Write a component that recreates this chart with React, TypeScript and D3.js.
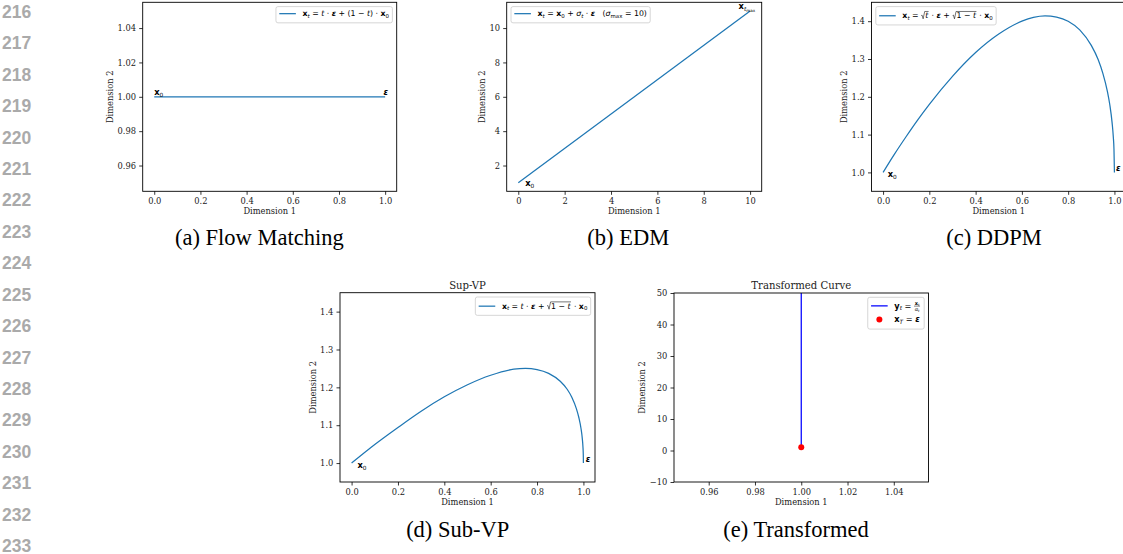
import React, { useEffect, useRef } from 'react';
import * as d3 from 'd3';

// page line numbers in the left margin
const lineNumbers = [216, 217, 218, 219, 220, 221, 222, 223, 224, 225, 226, 227, 228, 229, 230, 231, 232, 233];

// (a) flow matching: straight path x0 -> eps
const flowX = [0, 1];
const flowY = [1, 1];
// (b) EDM: x0 + sigma * eps, sigma up to 10
const edmX = [0, 10];
const edmY = [1, 11];
// (c) DDPM path
const ddpmX = [0, 0.05, 0.1, 0.15, 0.2, 0.3, 0.4, 0.5, 0.6, 0.65, 0.7, 0.75, 0.8, 0.85, 0.9, 0.93, 0.95, 0.97, 0.98, 0.99, 0.995, 0.998, 1.0];
const ddpmY = [1.0, 1.049, 1.095, 1.139, 1.18, 1.254, 1.317, 1.366, 1.4, 1.41, 1.414, 1.411, 1.4, 1.377, 1.336, 1.298, 1.262, 1.213, 1.179, 1.131, 1.095, 1.061, 1.0];
// (d) sub-VP path
const subX = [0, 0.1, 0.2, 0.3, 0.4, 0.5, 0.6, 0.7, 0.75, 0.8, 0.85, 0.9, 0.93, 0.95, 0.97, 0.98, 0.99, 0.995, 0.998, 0.9995, 1.0];
const subY = [1.0, 1.049, 1.094, 1.137, 1.175, 1.207, 1.232, 1.248, 1.25, 1.247, 1.237, 1.216, 1.195, 1.174, 1.143, 1.121, 1.09, 1.066, 1.043, 1.022, 1.0];
// (e) transformed curve + end point
const transX = [1, 1];
const transY = [1, 50];
const endX = [1];
const endY = [1];

// tick values
const unitTicks = [0, 0.2, 0.4, 0.6, 0.8, 1.0];
const flowYTicks = [0.96, 0.98, 1.0, 1.02, 1.04];
const edmXTicks = [0, 2, 4, 6, 8, 10];
const edmYTicks = [2, 4, 6, 8, 10];
const vpYTicks = [1.0, 1.1, 1.2, 1.3, 1.4];
const transXTicks = [0.96, 0.98, 1.0, 1.02, 1.04];
const transYTicks = [-10, 0, 10, 20, 30, 40, 50];

// top-row titles sit above the page edge in the source, so only the lower row has them
const titles = ['', '', '', 'Sup-VP', 'Transformed Curve'];
const captions = ['(a) Flow Matching', '(b) EDM', '(c) DDPM', '(d) Sub-VP', '(e) Transformed'];

// --- tiny mathtext-ish token helpers ---
type Tok = { t?: string; b?: boolean; i?: boolean; sub?: number; sqrt?: Tok[]; num?: Tok[]; den?: Tok[] };
const N = (t: string): Tok => ({ t });
const B = (t: string): Tok => ({ t, b: true });
const I = (t: string): Tok => ({ t, i: true });
const BI = (t: string): Tok => ({ t, b: true, i: true });
const S = (t: string, i = false): Tok => ({ t, i, sub: 1 });
const SS = (t: string): Tok => ({ t, sub: 2 });
const SQ = (...inner: Tok[]): Tok => ({ sqrt: inner });
const FR = (num: Tok[], den: Tok[]): Tok => ({ num, den });

const xt = [B('x'), S('t', true)];
const x0 = [B('x'), S('0')];
const eps = [BI('ε')];

const flowLabel = [...xt, N(' = '), I('t'), N(' · '), ...eps, N(' + (1 − '), I('t'), N(') · '), ...x0];
const edmLabel = [...xt, N(' = '), ...x0, N(' + '), I('σ'), S('t', true), N(' · '), ...eps, N('   ('), I('σ'), S('max'), N(' = 10)')];
const ddpmLabel = [...xt, N(' = '), SQ(I('t')), N(' · '), ...eps, N(' + '), SQ(N('1 − '), I('t')), N(' · '), ...x0];
const subLabel = [...xt, N(' = '), I('t'), N(' · '), ...eps, N(' + '), SQ(N('1 − '), I('t')), N(' · '), ...x0];
const transLabel = [B('y'), S('t', true), N(' = '), FR([B('x'), S('t', true)], [I('α'), S('t', true)])];
const endLabel = [B('x'), S('T', true), N(' = '), ...eps];
const tmaxLabel = [B('x'), S('t', true), SS('max')];

const blue = '#1f77b4';
const serif = 'DejaVu Serif';

const panels = [
  {
    key: 'a', left: 142.7, top: 2.3, right: 396.7, bottom: 191.3,
    xDomain: [-0.05, 1.05], yDomain: [0.945, 1.055], xTicks: unitTicks, yTicks: flowYTicks, xFmt: '.1f', yFmt: '.2f',
    title: titles[0], caption: captions[0], capX: 259.3, capY: 245,
    lines: [{ x: flowX, y: flowY, color: blue }], points: [],
    legendLoc: 'ur', legendFs: 7.8, legend: [{ kind: 'line', color: blue, toks: flowLabel }],
    notes: [{ x: 0, y: 1.001, toks: x0 }, { x: 0.993, y: 1.001, toks: eps }],
  },
  {
    key: 'b', left: 506.7, top: 2.3, right: 761.7, bottom: 191.3,
    xDomain: [-0.5, 10.5], yDomain: [0.5, 11.5], xTicks: edmXTicks, yTicks: edmYTicks, xFmt: 'd', yFmt: 'd',
    title: titles[1], caption: captions[1], capX: 628.3, capY: 245,
    lines: [{ x: edmX, y: edmY, color: blue }], points: [],
    legendLoc: 'ul', legendFs: 7.8, legend: [{ kind: 'line', color: blue, toks: edmLabel }],
    notes: [{ x: 0.3, y: 0.8, toks: x0 }, { x: 9.5, y: 11.1, toks: tmaxLabel }],
  },
  {
    key: 'c', left: 871.5, top: 2.3, right: 1126, bottom: 191.3,
    xDomain: [-0.05, 1.05], yDomain: [0.95, 1.45], xTicks: unitTicks, yTicks: vpYTicks, xFmt: '.1f', yFmt: '.1f',
    title: titles[2], caption: captions[2], capX: 994, capY: 245,
    lines: [{ x: ddpmX, y: ddpmY, color: blue }], points: [],
    legendLoc: 'ul', legendFs: 7.8, legend: [{ kind: 'line', color: blue, toks: ddpmLabel }],
    notes: [{ x: 0.02, y: 0.988, toks: x0 }, { x: 1.007, y: 1.005, toks: eps }],
  },
  {
    key: 'd', left: 340, top: 292.7, right: 595, bottom: 482,
    xDomain: [-0.05, 1.05], yDomain: [0.95, 1.45], xTicks: unitTicks, yTicks: vpYTicks, xFmt: '.1f', yFmt: '.1f',
    title: titles[3], caption: captions[3], capX: 457.7, capY: 537,
    lines: [{ x: subX, y: subY, color: blue }], points: [],
    legendLoc: 'ur', legendFs: 7.8, legend: [{ kind: 'line', color: blue, toks: subLabel }],
    notes: [{ x: 0.025, y: 0.987, toks: x0 }, { x: 1.01, y: 1.004, toks: eps }],
  },
  {
    key: 'e', left: 674, top: 293, right: 928.5, bottom: 482,
    xDomain: [0.945, 1.055], yDomain: [-10, 50], xTicks: transXTicks, yTicks: transYTicks, xFmt: '.2f', yFmt: 'd',
    title: titles[4], caption: captions[4], capX: 796, capY: 537,
    lines: [{ x: transX, y: transY, color: 'blue' }], points: [{ x: endX, y: endY, color: 'red' }],
    legendLoc: 'ur', legendFs: 8.2,
    legend: [{ kind: 'line', color: 'blue', toks: transLabel }, { kind: 'point', color: 'red', toks: endLabel }],
    notes: [],
  },
];

function drawMath(g: any, toks: Tok[], x0: number, y: number, fs: number): number {
  let x = x0;
  for (const tk of toks) {
    if (tk.sqrt) {
      const r = g.append('path').attr('fill', 'none').attr('stroke', '#000').attr('stroke-width', fs * 0.07);
      const start = x + fs * 0.5;
      const end = drawMath(g, tk.sqrt, start + fs * 0.04, y, fs);
      const top = y - fs * 0.88;
      r.attr('d', `M${x + fs * 0.03},${y - fs * 0.36}L${x + fs * 0.13},${y - fs * 0.42}L${x + fs * 0.27},${y + fs * 0.06}L${x + fs * 0.47},${top}H${end + fs * 0.04}`);
      x = end + fs * 0.1;
    } else if (tk.num && tk.den) {
      const sfs = fs * 0.62;
      const bar = y - fs * 0.3;
      const gn = g.append('g');
      const gd = g.append('g');
      const wn = drawMath(gn, tk.num, 0, bar - fs * 0.1, sfs);
      const wd = drawMath(gd, tk.den, 0, bar + fs * 0.1 + sfs * 0.72, sfs);
      const w = Math.max(wn, wd);
      const pad = fs * 0.08;
      gn.attr('transform', `translate(${x + pad + (w - wn) / 2},0)`);
      gd.attr('transform', `translate(${x + pad + (w - wd) / 2},0)`);
      g.append('line').attr('x1', x).attr('x2', x + w + pad * 2).attr('y1', bar).attr('y2', bar)
        .attr('stroke', '#000').attr('stroke-width', fs * 0.06);
      x += w + pad * 2 + fs * 0.1;
    } else {
      const size = tk.sub === 2 ? fs * 0.5 : tk.sub ? fs * 0.7 : fs;
      const dy = tk.sub === 2 ? fs * 0.38 : tk.sub ? fs * 0.2 : 0;
      const el = g.append('text')
        .attr('x', x).attr('y', y + dy)
        .attr('font-family', 'DejaVu Sans')
        .attr('font-size', size)
        .attr('font-weight', tk.b ? 'bold' : 'normal')
        .attr('font-style', tk.i ? 'italic' : 'normal')
        .attr('fill', '#000')
        .style('white-space', 'pre')
        .text(tk.t as string);
      x += (el.node() as SVGTextElement).getComputedTextLength();
    }
  }
  return x;
}

function hasTok(toks: Tok[], k: 'sqrt' | 'num'): boolean {
  return toks.some((t) => !!t[k]);
}

function drawPanel(svg: any, p: any) {
  const x = d3.scaleLinear().domain(p.xDomain).range([p.left, p.right]);
  const y = d3.scaleLinear().domain(p.yDomain).range([p.bottom, p.top]);
  const g = svg.append('g');

  const clipId = 'clip-' + p.key;
  svg.append('clipPath').attr('id', clipId).append('rect')
    .attr('x', p.left).attr('y', p.top).attr('width', p.right - p.left).attr('height', p.bottom - p.top);
  const plot = g.append('g').attr('clip-path', `url(#${clipId})`);

  p.lines.forEach((s: any) => {
    const pts = s.x.map((v: number, i: number) => [v, s.y[i]]);
    const line = d3.line<number[]>().x((d) => x(d[0])).y((d) => y(d[1]))
      .curve(pts.length > 2 ? d3.curveMonotoneX : d3.curveLinear);
    plot.append('path').datum(pts).attr('d', line).attr('fill', 'none')
      .attr('stroke', s.color).attr('stroke-width', 1.25);
  });
  p.points.forEach((s: any) => {
    s.x.forEach((v: number, i: number) => {
      g.append('circle').attr('cx', x(v)).attr('cy', y(s.y[i])).attr('r', 3).attr('fill', s.color);
    });
  });

  // frame
  g.append('rect').attr('x', p.left).attr('y', p.top).attr('width', p.right - p.left).attr('height', p.bottom - p.top)
    .attr('fill', 'none').attr('stroke', '#000').attr('stroke-width', 0.9);

  const styleAxis = (a: any) => {
    a.select('.domain').remove();
    a.selectAll('text').attr('fill', '#222').attr('font-family', serif).attr('font-size', 8.3);
    a.selectAll('line').attr('stroke', '#000').attr('stroke-width', 0.8);
  };
  g.append('g').attr('transform', `translate(0,${p.bottom})`)
    .call(d3.axisBottom(x).tickValues(p.xTicks).tickFormat(d3.format(p.xFmt) as any).tickSize(3.5).tickPadding(3.2))
    .call(styleAxis);
  const ya = g.append('g').attr('transform', `translate(${p.left},0)`)
    .call(d3.axisLeft(y).tickValues(p.yTicks).tickFormat(d3.format(p.yFmt) as any).tickSize(3.5).tickPadding(3.2))
    .call(styleAxis);
  const maxW = d3.max(ya.selectAll('text').nodes(), (n: any) => n.getComputedTextLength()) || 0;

  // axis labels
  g.append('text').attr('x', (p.left + p.right) / 2).attr('y', p.bottom + 22.5)
    .attr('text-anchor', 'middle').attr('font-family', serif).attr('font-size', 8.3).attr('fill', '#222')
    .text('Dimension 1');
  g.append('text')
    .attr('transform', `translate(${p.left - 7 - maxW - 4},${(p.top + p.bottom) / 2}) rotate(-90)`)
    .attr('text-anchor', 'middle').attr('font-family', serif).attr('font-size', 8.3).attr('fill', '#222')
    .text('Dimension 2');

  // title
  if (p.title) {
    g.append('text').attr('x', (p.left + p.right) / 2).attr('y', p.top - 4)
      .attr('text-anchor', 'middle').attr('font-family', serif).attr('font-size', 10.1).attr('fill', '#222')
      .text(p.title);
  }

  // point annotations
  p.notes.forEach((n: any) => drawMath(g, n.toks, x(n.x), y(n.y), 8.3));

  // legend
  const fs = p.legendFs;
  const em = 8.3;
  const bp = 0.4 * em, hl = 2 * em, htp = 0.8 * em, ls = 0.5 * em;
  const lg = g.append('g');
  const box = lg.append('rect');
  let rowTop = bp;
  let maxText = 0;
  p.legend.forEach((e: any, i: number) => {
    const rowH = hasTok(e.toks, 'num') ? 11.4 : hasTok(e.toks, 'sqrt') ? 11.7 : 9.6;
    const base = rowTop + rowH - fs * 0.42;
    const hy = base - fs * 0.33;
    if (e.kind === 'line') {
      lg.append('line').attr('x1', bp).attr('x2', bp + hl).attr('y1', hy).attr('y2', hy)
        .attr('stroke', e.color).attr('stroke-width', 1.25);
    } else {
      lg.append('circle').attr('cx', bp + hl / 2).attr('cy', hy).attr('r', 3).attr('fill', e.color);
    }
    const end = drawMath(lg, e.toks, bp + hl + htp, base, fs);
    maxText = Math.max(maxText, end - (bp + hl + htp));
    rowTop += rowH + (i < p.legend.length - 1 ? ls : 0);
  });
  const bw = bp + hl + htp + maxText + bp;
  const bh = rowTop + bp;
  box.attr('width', bw).attr('height', bh).attr('rx', 2).attr('fill', '#fff')
    .attr('stroke', '#ccc').attr('stroke-width', 0.8);
  const bx = p.legendLoc === 'ur' ? p.right - 4.3 - bw : p.left + 4.3;
  const by = p.top + 4.3;
  lg.attr('transform', `translate(${bx},${by})`);

  // subfigure caption
  svg.append('text').attr('x', p.capX).attr('y', p.capY).attr('text-anchor', 'middle')
    .attr('font-family', 'Liberation Serif, Times New Roman, serif').attr('font-size', 22.5).attr('fill', '#000')
    .text(p.caption);
}

function drawFigure(el: SVGSVGElement) {
  const svg = d3.select(el);
  svg.selectAll('*').remove();
  svg.append('rect').attr('width', 1123).attr('height', 554).attr('fill', '#fff');

  svg.append('g').selectAll('text').data(lineNumbers).enter().append('text')
    .attr('x', 2)
    .attr('y', (d, i) => 11.7 + i * 31.43 + 6.2)
    .attr('font-family', 'Liberation Sans, Arial, sans-serif')
    .attr('font-weight', 'bold')
    .attr('font-size', 17.5)
    .attr('fill', '#aaa')
    .text((d) => String(d));

  panels.forEach((p) => drawPanel(svg, p));
}

const App = () => {
  const ref = useRef<SVGSVGElement>(null);
  useEffect(() => {
    if (ref.current) drawFigure(ref.current);
  }, []);
  return (
    <div style={{ position: 'absolute', left: 0, top: 0 }}>
      <svg ref={ref} width={1123} height={554} style={{ display: 'block' }} />
    </div>
  );
};

export default App;
